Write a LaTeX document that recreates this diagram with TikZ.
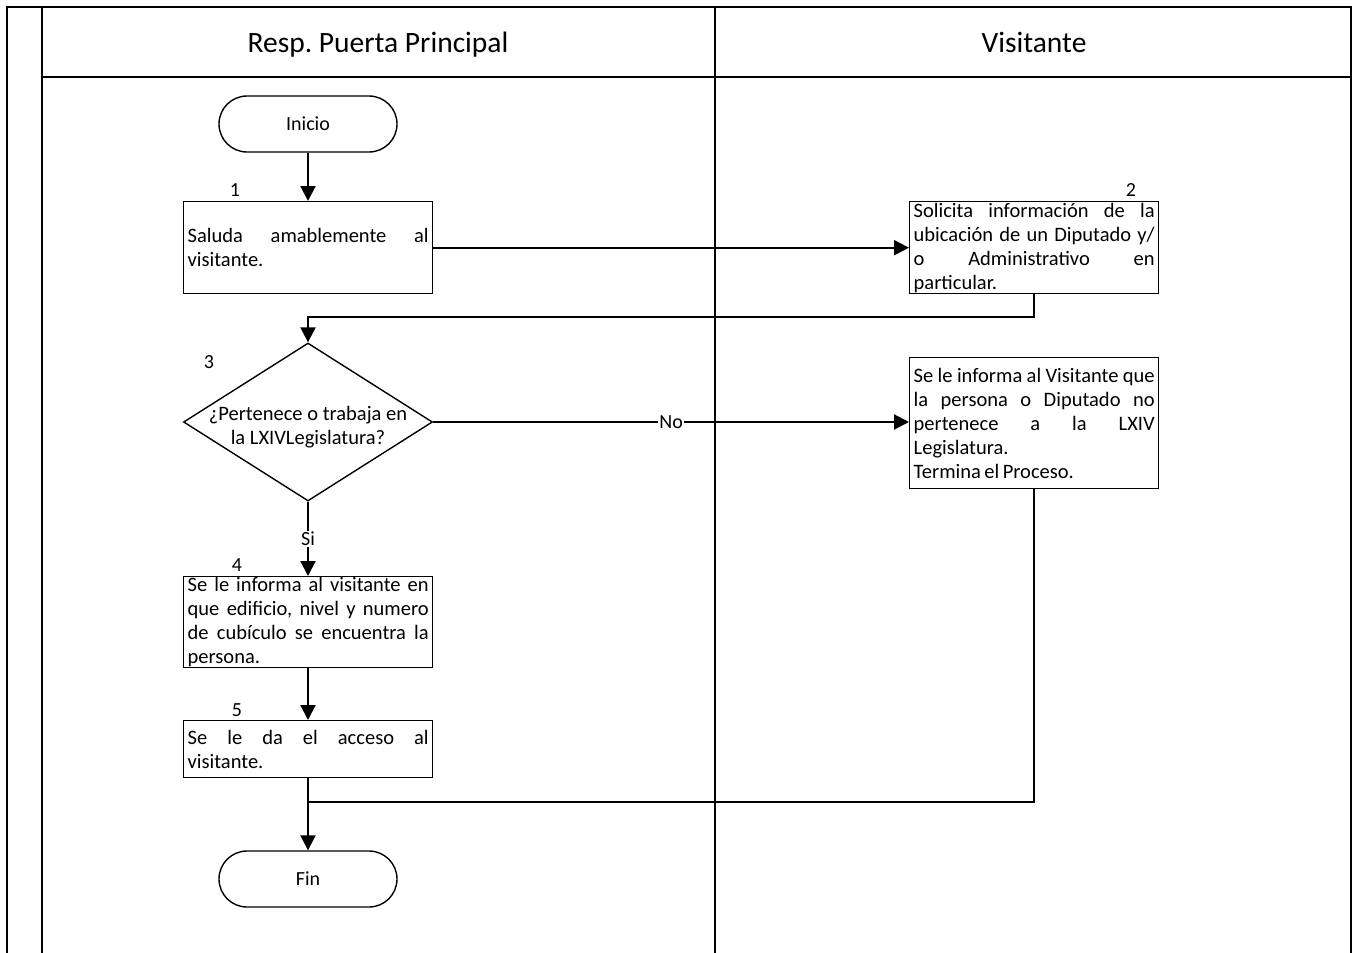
\documentclass[tikz,border=0pt]{standalone}
\usepackage{fontspec}
\setmainfont{Carlito}
\usetikzlibrary{arrows.meta,shapes.geometric}
\frenchspacing
\newcommand{\boxfont}{\fontsize{20.5}{24}\selectfont\spaceskip=0.17em plus 0.6em minus 0.03em\relax}
\begin{document}
\begin{tikzpicture}[x=1pt,y=-1pt,
  line width=1.6pt,
  every node/.style={font=\fontsize{20}{24}\selectfont},
  lane/.style={line width=1.6pt},
  header/.style={font=\fontsize{29.5}{32}\selectfont,anchor=base,inner sep=0pt},
  taskbox/.style={draw,rectangle,line width=1.4pt,minimum width=249pt,text width=241pt,
    inner xsep=4pt,inner ysep=0pt,align=justify,anchor=north west,font=\boxfont},
  term/.style={draw,rectangle,rounded corners=28pt,line width=1.4pt,minimum width=178pt,
    minimum height=56pt,font=\fontsize{20}{24}\selectfont},
  decision/.style={draw,diamond,line width=1.4pt,minimum width=249pt,minimum height=158pt,
    inner sep=0pt},
  dtext/.style={align=center,inner sep=0pt,font=\fontsize{20.5}{24}\selectfont},
  num/.style={font=\fontsize{20}{22}\selectfont,inner sep=0pt},
  flow/.style={line width=2pt,-{Triangle[length=15pt,width=15pt]}},
  plain/.style={line width=2pt},
  tag/.style={fill=white,inner sep=1pt,font=\fontsize{20}{22}\selectfont}]

\useasboundingbox (0,0) rectangle (1352,953);

% swimlane frame
\draw[lane] (7,953) -- (7,7) -- (1351,7) -- (1351,953);
\draw[lane] (42,7) -- (42,953);
\draw[lane] (42,77) -- (1351,77);
\draw[lane] (715,7) -- (715,953);
\node[header] (h1) at (378,52) {Resp. Puerta Principal};
\node[header] (h2) at (1034,52) {Visitante};

% terminators
\node[term] (inicio) at (308,124) {Inicio};
\node[term] (fin) at (308,879) {Fin};

% activities
\node[taskbox,minimum height=92pt] (b1) at (183,201)
  {Saluda amablemente al\linebreak visitante.};
\node[taskbox,minimum height=92pt] (b2) at (909,201)
  {Solicita información de la\linebreak ubicación de un Diputado y/\linebreak o Administrativo en\linebreak particular.};
\node[decision] (d3) at (308,422) {};
\node[dtext] (d3t) at (308,427) {¿Pertenece o trabaja en\\la LXIVLegislatura?};
\node[taskbox,minimum height=131pt] (b3) at (909,357)
  {Se le informa al Visitante que\linebreak la persona o Diputado no\linebreak pertenece a la LXIV\linebreak Legislatura.\\Termina el Proceso.};
\node[taskbox,minimum height=91pt] (b4) at (183,576)
  {Se le informa al visitante en\linebreak que edificio, nivel y numero\linebreak de cubículo se encuentra la\linebreak persona.};
\node[taskbox,minimum height=57pt] (b5) at (183,720)
  {Se le da el acceso al\linebreak visitante.};

% step numbers
\node[num] (n1) at (235,190) {1};
\node[num] (n2) at (1131,190) {2};
\node[num] (n3) at (209,362) {3};
\node[num] (n4) at (237,565) {4};
\node[num] (n5) at (237,710) {5};

% connectors
\coordinate (j) at (308,802);
\draw[flow] (inicio.south) -- (b1.north -| inicio.south);
\draw[flow] (b1.east) -- (b1.east -| b2.west);
\draw[flow] (b2.south) -- ++(0,23) -| (d3.north);
\draw[flow] (d3.east) -- node[tag] (no) {No} (d3.east -| b3.west);
\draw[flow] (d3.south) -- node[tag,pos=0.5] (si) {Si} (d3.south |- b4.north);
\draw[flow] (b4.south -| d3.south) -- (b5.north -| d3.south);
\draw[plain] (b3.south) |- (j);
\draw[flow] (b5.south -| d3.south) -- (fin.north);
\end{tikzpicture}
\end{document}
